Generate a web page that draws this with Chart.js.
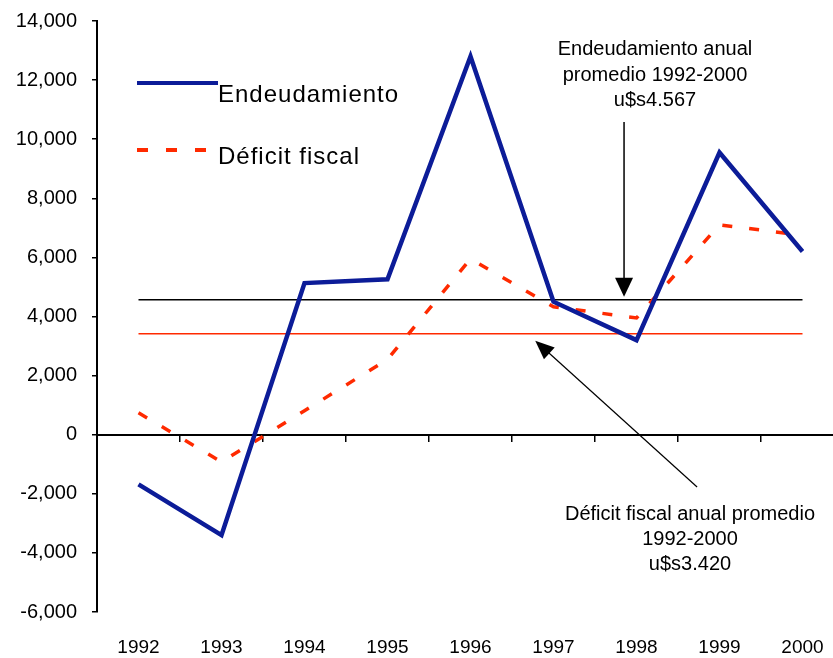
<!DOCTYPE html>
<html>
<head>
<meta charset="utf-8">
<script src="https://cdn.jsdelivr.net/npm/chart.js@4.4.1/dist/chart.umd.min.js"></script>
<style>
  html, body { margin: 0; padding: 0; background: #fff; overflow: hidden; }
  #wrap { width: 844px; height: 658px; }
</style>
</head>
<body>
<div id="wrap"><canvas id="grafico" width="844" height="658"></canvas></div>
<script>
const anios = ["1992", "1993", "1994", "1995", "1996", "1997", "1998", "1999", "2000"];
const endeudamiento = [-1680, -3400, 5130, 5260, 12800, 4500, 3200, 9550, 6200];
const deficitFiscal = [740, -920, 810, 2550, 5950, 4330, 3950, 7100, 6750];
const promedioEndeudamiento = 4567;
const promedioDeficit = 3420;
const notaEndeudamiento = ["Endeudamiento anual", "promedio 1992-2000", "u$s4.567"];
const notaDeficit = ["Déficit fiscal anual promedio", "1992-2000", "u$s3.420"];

const AZUL = "#0c1c98";
const ROJO = "#ff2a00";
const FUENTE = "'Liberation Sans', Arial, sans-serif";

// sin esto Chart.js deja margen extra arriba y a la derecha
function sinMargenes(s) {
  s.paddingTop = 0;
  s.paddingBottom = 0;
  s.paddingLeft = 0;
  s.paddingRight = 0;
}

function flecha(ctx, x1, y1, x2, y2, largo, ancho) {
  const ang = Math.atan2(y2 - y1, x2 - x1);
  const c = Math.cos(ang), s = Math.sin(ang);
  ctx.beginPath();
  ctx.moveTo(x1, y1);
  ctx.lineTo(x2 - c * largo * 0.7, y2 - s * largo * 0.7);
  ctx.stroke();
  ctx.beginPath();
  ctx.moveTo(x2, y2);
  ctx.lineTo(x2 - c * largo + s * ancho, y2 - s * largo - c * ancho);
  ctx.lineTo(x2 - c * largo - s * ancho, y2 - s * largo + c * ancho);
  ctx.closePath();
  ctx.fill();
}

const leyendaYNotas = {
  id: "leyendaYNotas",
  afterDatasetsDraw(chart) {
    const { ctx, scales: { x, y } } = chart;
    const ds = chart.data.datasets;
    ctx.save();

    // leyenda dentro del area
    ctx.lineCap = "butt";
    ctx.strokeStyle = ds[0].borderColor;
    ctx.lineWidth = 4;
    ctx.beginPath(); ctx.moveTo(137, 83); ctx.lineTo(218, 83); ctx.stroke();
    ctx.strokeStyle = ds[1].borderColor;
    ctx.setLineDash([11, 18]);
    ctx.beginPath(); ctx.moveTo(137, 150); ctx.lineTo(210, 150); ctx.stroke();
    ctx.setLineDash([]);
    ctx.fillStyle = "#000";
    ctx.font = "24px " + FUENTE;
    ctx.letterSpacing = "1px";
    ctx.textAlign = "left";
    ctx.textBaseline = "alphabetic";
    ctx.fillText(ds[0].label, 218, 102);
    ctx.fillText(ds[1].label, 218, 164);
    ctx.letterSpacing = "0px";

    // notas
    ctx.font = "20px " + FUENTE;
    ctx.textAlign = "center";
    notaEndeudamiento.forEach((t, i) => ctx.fillText(t, 655, 55 + i * 25.5));
    notaDeficit.forEach((t, i) => ctx.fillText(t, 690, 520 + i * 25));

    ctx.strokeStyle = "#000";
    ctx.fillStyle = "#000";
    ctx.lineWidth = 1.5;
    const xa = x.getPixelForValue(5.85);
    flecha(ctx, xa, 122, xa, y.getPixelForValue(promedioEndeudamiento) - 3, 19, 9);
    ctx.lineWidth = 1.2;
    flecha(ctx, x.getPixelForValue(6.73), 487, x.getPixelForValue(4.78), y.getPixelForValue(promedioDeficit) + 7, 19, 8);

    ctx.restore();
  }
};

new Chart(document.getElementById("grafico"), {
  type: "line",
  data: {
    labels: anios,
    datasets: [
      {
        label: "Endeudamiento",
        data: endeudamiento,
        borderColor: AZUL,
        borderWidth: 4.5,
        pointRadius: 0,
        tension: 0
      },
      {
        label: "Déficit fiscal",
        data: deficitFiscal,
        borderColor: ROJO,
        borderWidth: 3.5,
        borderDash: [10, 17],
        pointRadius: 0,
        tension: 0
      },
      {
        label: "Promedio endeudamiento",
        data: [{ x: anios[0], y: promedioEndeudamiento }, { x: anios[anios.length - 1], y: promedioEndeudamiento }],
        borderColor: "#000",
        borderWidth: 1.5,
        pointRadius: 0
      },
      {
        label: "Promedio déficit",
        data: [{ x: anios[0], y: promedioDeficit }, { x: anios[anios.length - 1], y: promedioDeficit }],
        borderColor: ROJO,
        borderWidth: 1.5,
        pointRadius: 0
      }
    ]
  },
  options: {
    responsive: false,
    animation: false,
    layout: { padding: { top: 21, left: 0, right: 0, bottom: 0 } },
    plugins: { legend: { display: false }, tooltip: { enabled: false } },
    scales: {
      x: {
        type: "category",
        offset: true,
        grid: { display: false, drawTicks: false },
        border: { display: false },
        ticks: { color: "#000", font: { family: FUENTE, size: 19 }, padding: 24, maxRotation: 0, autoSkip: false },
        afterFit(s) { s.height = 46; sinMargenes(s); }
      },
      x2: {
        type: "category",
        axis: "x",
        labels: anios,
        position: { y: 0 },
        offset: true,
        grid: { offset: true, drawOnChartArea: false, drawTicks: true, tickLength: 6, color: "#000", lineWidth: 1.5 },
        border: { display: true, color: "#000", width: 2 },
        ticks: { display: false },
        afterFit(s) { sinMargenes(s); }
      },
      y: {
        min: -6000,
        max: 14000,
        ticks: {
          stepSize: 2000,
          color: "#000",
          font: { family: FUENTE, size: 20 },
          padding: 15,
          callback: v => v.toLocaleString("en-US")
        },
        grid: { drawOnChartArea: false, drawTicks: true, tickLength: 5, color: "#000", lineWidth: 1.5 },
        border: { display: true, color: "#000", width: 2 },
        afterFit(s) { s.width = 97; sinMargenes(s); }
      }
    }
  },
  plugins: [leyendaYNotas]
});
</script>
</body>
</html>
